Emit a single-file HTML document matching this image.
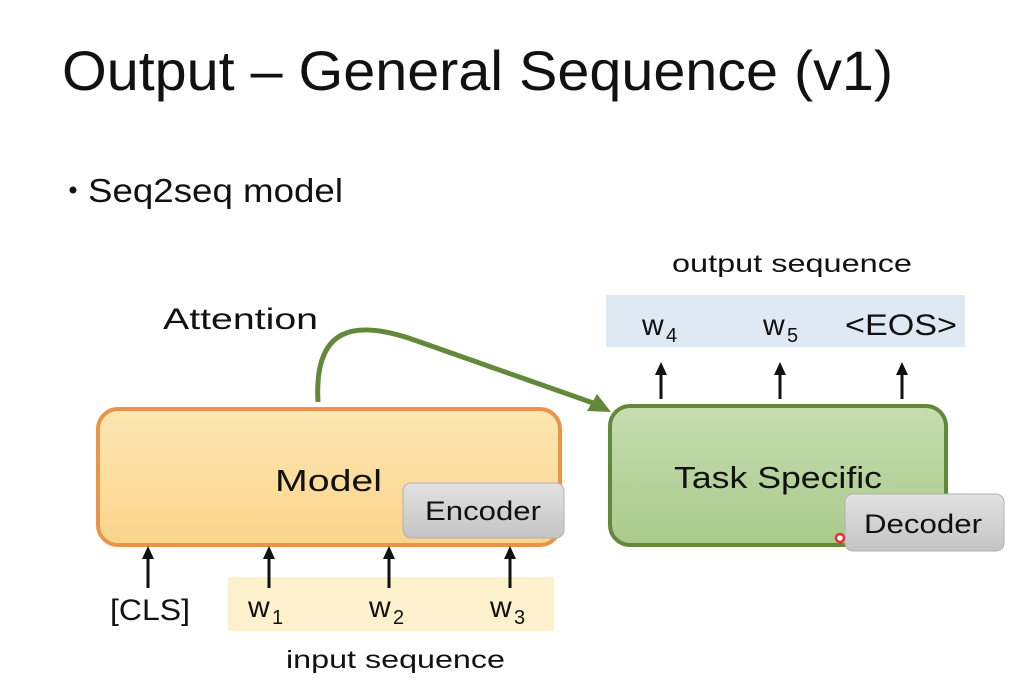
<!DOCTYPE html>
<html><head><meta charset="utf-8"><style>
html,body{margin:0;padding:0;background:#fff;}
svg{display:block;font-family:"Liberation Sans",sans-serif;}
</style></head><body>
<svg width="1012" height="682" viewBox="0 0 1012 682" xmlns="http://www.w3.org/2000/svg">
<defs>
<linearGradient id="og" x1="0" y1="0" x2="0" y2="1"><stop offset="0" stop-color="#fde6b3"/><stop offset="1" stop-color="#fad58a"/></linearGradient>
<linearGradient id="gg" x1="0" y1="0" x2="0" y2="1"><stop offset="0" stop-color="#c6ddb0"/><stop offset="1" stop-color="#a9ca8c"/></linearGradient>
<linearGradient id="gr" x1="0" y1="0" x2="0" y2="1"><stop offset="0" stop-color="#e2e2e2"/><stop offset="1" stop-color="#c4c4c4"/></linearGradient>
</defs>
<text x="62" y="90" font-size="56" textLength="831" lengthAdjust="spacingAndGlyphs" fill="#111">Output – General Sequence (v1)</text>
<circle cx="73" cy="190" r="3.5" fill="#111"/>
<text x="88" y="202" font-size="33" textLength="255" lengthAdjust="spacingAndGlyphs" fill="#111">Seq2seq model</text>

<text x="163" y="329" font-size="30" textLength="155" lengthAdjust="spacingAndGlyphs" fill="#111">Attention</text>
<text x="672" y="272" font-size="25" textLength="240" lengthAdjust="spacingAndGlyphs" fill="#111">output sequence</text>

<rect x="606" y="295" width="359" height="52" fill="#dfe9f4"/>
<rect x="228" y="577" width="326" height="54" fill="#fdf0cc"/>

<rect x="98" y="409" width="462" height="136" rx="20" fill="url(#og)" stroke="#ea9448" stroke-width="4"/>
<rect x="610" y="406" width="336" height="139" rx="20" fill="url(#gg)" stroke="#62883a" stroke-width="4"/>

<rect x="403" y="483" width="161" height="55" rx="8" fill="url(#gr)" stroke="#b0b0b0" stroke-width="1"/>
<rect x="845" y="494" width="159" height="57" rx="8" fill="url(#gr)" stroke="#b0b0b0" stroke-width="1"/>

<text x="275" y="491" font-size="31" textLength="107" lengthAdjust="spacingAndGlyphs" fill="#111">Model</text>
<text x="425" y="520" font-size="27" textLength="116" lengthAdjust="spacingAndGlyphs" fill="#111">Encoder</text>
<text x="674" y="488" font-size="31" textLength="208" lengthAdjust="spacingAndGlyphs" fill="#111">Task Specific</text>
<text x="864" y="533" font-size="27" textLength="118" lengthAdjust="spacingAndGlyphs" fill="#111">Decoder</text>
<circle cx="840" cy="538" r="4" fill="#fff" stroke="#e53030" stroke-width="2.5"/>

<path d="M318,402 C314,330 350,316 420,342 L596,404" fill="none" stroke="#62883a" stroke-width="5"/>
<polygon points="611,412 587,411 597,394" fill="#62883a"/>

<g stroke="#111" stroke-width="3">
<line x1="148" y1="588" x2="148" y2="556"/><line x1="269" y1="588" x2="269" y2="556"/>
<line x1="389" y1="588" x2="389" y2="556"/><line x1="510" y1="588" x2="510" y2="556"/>
<line x1="661" y1="399" x2="661" y2="372"/><line x1="780" y1="399" x2="780" y2="372"/>
<line x1="902" y1="399" x2="902" y2="372"/>
</g>
<g fill="#111">
<polygon points="148,546 142,559 154,559"/><polygon points="269,546 263,559 275,559"/>
<polygon points="389,546 383,559 395,559"/><polygon points="510,546 504,559 516,559"/>
<polygon points="661,362 655,375 667,375"/><polygon points="780,362 774,375 786,375"/>
<polygon points="902,362 896,375 908,375"/>
</g>

<g font-size="30" fill="#111">
<text x="110" y="620" textLength="80" lengthAdjust="spacingAndGlyphs">[CLS]</text>
<text x="248" y="617">w</text><text x="272" y="624" font-size="20">1</text>
<text x="369" y="617">w</text><text x="393" y="624" font-size="20">2</text>
<text x="490" y="617">w</text><text x="514" y="624" font-size="20">3</text>
<text x="642" y="335">w</text><text x="666" y="342" font-size="20">4</text>
<text x="763" y="335">w</text><text x="787" y="342" font-size="20">5</text>
<text x="845" y="335" textLength="112" lengthAdjust="spacingAndGlyphs">&lt;EOS&gt;</text>
</g>
<text x="286" y="668" font-size="25" textLength="219" lengthAdjust="spacingAndGlyphs" fill="#111">input sequence</text>
</svg>
</body></html>
